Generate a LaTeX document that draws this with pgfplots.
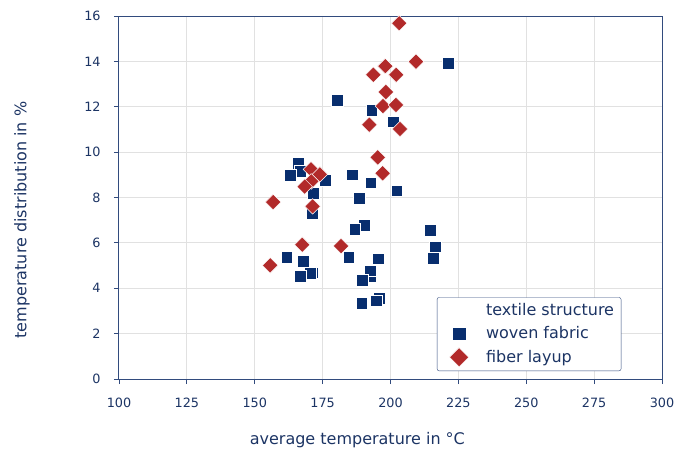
\documentclass[border=0pt]{standalone}
\usepackage{fontspec}
\setmainfont{DejaVu Sans}
\usepackage{pgfplots}
\pgfplotsset{compat=1.18}
\definecolor{txt}{RGB}{28,52,100}
\definecolor{axc}{RGB}{50,75,125}
\definecolor{blu}{RGB}{8,46,110}
\definecolor{rd}{RGB}{178,42,42}
\definecolor{grd}{RGB}{225,225,225}
\begin{document}
\fontsize{12.5}{15}\selectfont
\begin{tikzpicture}
\begin{axis}[
  at={(0pt,0pt)}, anchor=south west,
  scale only axis, width=543pt, height=363pt,
  xmin=100, xmax=300, ymin=0, ymax=16,
  xtick={100,125,...,300}, ytick={0,2,...,16},
  xtick pos=left, ytick pos=left, tick align=outside,
  major tick length=5pt,
  tick style={axc, line width=0.8pt},
  axis line style={axc, line width=1pt},
  grid=major, major grid style={grd, line width=1pt},
  ticklabel style={txt, font=\fontsize{12.8}{15}\selectfont},
  xticklabel style={yshift=-10pt},
  yticklabel style={xshift=-9pt},
  /pgf/number format/assume math mode=true,
  xlabel={average temperature in °C},
  ylabel={temperature distribution in \%},
  label style={txt, font=\fontsize{16}{19}\selectfont},
  xlabel style={at={(axis description cs:0.439,-0.168)}, anchor=center},
  ylabel style={at={(axis description cs:-0.1786,0.438)}, anchor=center},
  legend style={at={(axis description cs:0.925,0.022)}, anchor=south east,
    draw=axc, rounded corners=2pt, text=txt, font=\fontsize{16}{19}\selectfont,
    row sep=5pt, inner xsep=5pt, inner ysep=4pt,
    nodes={inner sep=2pt}},
  legend image code/.code={\path[draw=none,fill=none] (0pt,0pt) -- (42pt,0pt); \draw[#1,only marks,mark size=6.8pt] plot coordinates {(17pt,0pt)};},
  legend cell align=left,
  clip=false,
]
\addlegendimage{empty legend}
\addlegendentry{textile structure}
\addplot[only marks, mark=square*, mark size=5.9pt, mark options={fill=blu, draw=white, line width=0.5pt}] coordinates {
(221.3,13.91) (180.5,12.30) (193.1,11.86) (201.0,11.34) (185.9,9.00) (192.7,8.65)
(202.3,8.30) (188.5,7.96) (166.1,9.50) (166.7,9.14) (163.0,8.99) (175.9,8.77)
(171.6,8.18) (171.3,7.30) (190.2,6.77) (186.8,6.59) (214.7,6.54) (216.4,5.83)
(215.8,5.33) (161.8,5.38) (167.9,5.19) (184.6,5.36) (195.6,5.30) (171.3,4.68)
(170.3,4.66) (166.8,4.54) (192.4,4.54) (192.5,4.77) (189.6,4.36) (196.0,3.57)
(194.8,3.45) (189.4,3.34)
};
\addlegendentry{woven fabric}
\addplot[only marks, mark=square*, mark size=5.5pt, mark options={rotate=45, fill=rd, draw=white, line width=0.5pt}] coordinates {
(203.2,15.68) (209.4,13.99) (198.1,13.79) (193.7,13.41) (202.1,13.41) (198.3,12.65)
(197.2,12.03) (202.0,12.08) (192.2,11.21) (203.5,11.02) (195.3,9.77) (197.1,9.07)
(170.7,9.24) (174.0,9.02) (170.8,8.71) (168.4,8.48) (156.8,7.80) (171.3,7.61)
(167.5,5.92) (181.8,5.86) (155.7,5.01)
};
\addlegendentry{fiber layup}
\end{axis}
\pgfresetboundingbox
\path (-119pt,-74pt) rectangle (560pt,379pt);
\end{tikzpicture}
\end{document}
